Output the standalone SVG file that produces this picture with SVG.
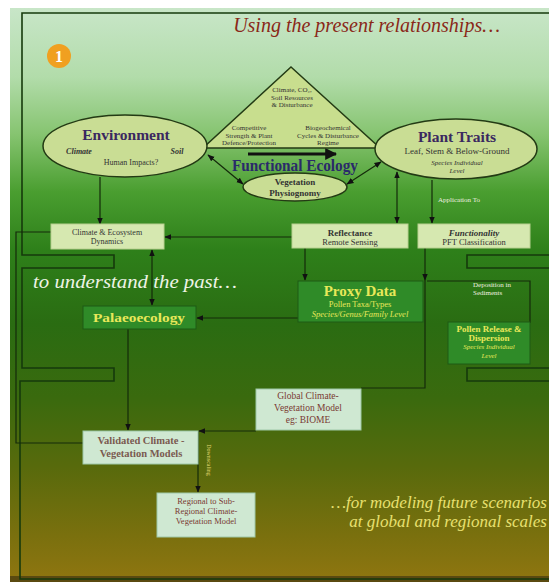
<svg xmlns="http://www.w3.org/2000/svg" width="549" height="582" viewBox="0 0 549 582">
<defs>
<linearGradient id="bg" x1="0" y1="0" x2="0" y2="1">
<stop offset="0" stop-color="#c8e6c8"/>
<stop offset="0.12" stop-color="#b2dcaa"/>
<stop offset="0.22" stop-color="#86c470"/>
<stop offset="0.32" stop-color="#4a9e30"/>
<stop offset="0.42" stop-color="#2e801a"/>
<stop offset="0.55" stop-color="#2a6c12"/>
<stop offset="0.68" stop-color="#3a6a0e"/>
<stop offset="0.8" stop-color="#586a0c"/>
<stop offset="0.92" stop-color="#7a700e"/>
<stop offset="1" stop-color="#907610"/>
</linearGradient>
<marker id="ah" viewBox="0 0 10 10" refX="9" refY="5" markerWidth="6" markerHeight="6" orient="auto-start-reverse">
<path d="M0,1 L10,5 L0,9 z" fill="#111"/>
</marker>
<marker id="big" viewBox="0 0 10 10" refX="9" refY="5" markerWidth="4" markerHeight="4" orient="auto">
<path d="M0,0 L10,5 L0,10 z" fill="#111"/>
</marker>
</defs>
<style>
.frame{fill:none;stroke:#163a0c;stroke-width:1.6}
.conn{fill:none;stroke:#142a0a;stroke-width:1.2}
.ell{fill:#c9dd94;stroke:#233a14;stroke-width:1.5}
.lbox{fill:#d6e8b0;stroke:#b8d090;stroke-width:1}
.gbox{fill:#2f8b28;stroke:#1e5a14;stroke-width:1}
.mbox{fill:#cfe8d2;stroke:#9ec8a8;stroke-width:1}
.s{font-family:"Liberation Serif","Times New Roman",serif}
.dk{fill:#333}
.tt{fill:#3a2860;font-weight:bold}
.yl{fill:#e8e85a}
.rb{fill:#7a3a32}
.it{font-style:italic}
.b{font-weight:bold}
</style>
<rect x="10" y="8" width="539" height="574" fill="url(#bg)"/>
<rect x="10" y="576" width="539" height="6" fill="#5a4a10"/>

<g id="frames">
<path class="frame" d="M549,13 H22 V255 H114 V268 H22 V368 H114 V381 H20 V579 H549"/>
<path class="frame" d="M549,255 H467 V268 H549"/>
<path class="frame" d="M549,368 H467 V381 H549"/>
</g>

<g id="captions" class="s it">
<text x="500" y="32" font-size="20" text-anchor="end" fill="#8a2818">Using the present relationships…</text>
<text x="33" y="288" font-size="19" fill="#eef4e6" textLength="204" lengthAdjust="spacingAndGlyphs">to understand the past…</text>
<text x="547" y="508" font-size="17" text-anchor="end" fill="#e8e070">…for modeling future scenarios</text>
<text x="547" y="527" font-size="17" text-anchor="end" fill="#e8e070">at global and regional scales</text>
</g>

<g id="badge">
<circle cx="59" cy="56" r="12" fill="#f0a020"/>
<text x="59" y="62" font-size="16" text-anchor="middle" fill="#fff" class="s b">1</text>
</g>

<g id="connectors">
<line class="conn" x1="208" y1="155" x2="243" y2="184" marker-start="url(#ah)" marker-end="url(#ah)"/>
<line class="conn" x1="347" y1="184" x2="381" y2="162" marker-start="url(#ah)" marker-end="url(#ah)"/>
<line x1="248" y1="154" x2="336" y2="154" stroke="#111" stroke-width="3" marker-end="url(#big)"/>
<line class="conn" x1="100" y1="177" x2="100" y2="224" marker-end="url(#ah)"/>
<line class="conn" x1="292" y1="237" x2="165" y2="237" marker-end="url(#ah)"/>
<line class="conn" x1="152" y1="250" x2="152" y2="305" marker-start="url(#ah)" marker-end="url(#ah)"/>
<line class="conn" x1="397" y1="172" x2="397" y2="223" marker-start="url(#ah)" marker-end="url(#ah)"/>
<line class="conn" x1="432" y1="180" x2="432" y2="223" marker-end="url(#ah)"/>
<line class="conn" x1="305" y1="248" x2="305" y2="280" marker-end="url(#ah)"/>
<line class="conn" x1="425" y1="248" x2="425" y2="280" marker-end="url(#ah)"/>
<path class="conn" d="M425,280 V388 H361"/>
<line class="conn" x1="298" y1="318" x2="197" y2="318" marker-end="url(#ah)"/>
<line class="conn" x1="128" y1="329" x2="128" y2="430" marker-end="url(#ah)"/>
<line class="conn" x1="256" y1="431" x2="199" y2="431" marker-end="url(#ah)"/>
<line class="conn" x1="198" y1="431" x2="198" y2="492" marker-end="url(#ah)"/>
<path class="conn" d="M51,232 H16 V443 H83"/>
<path class="conn" d="M427,281 H530 V323"/>
<text x="207" y="460" font-size="6" class="s" fill="#e0d870" text-anchor="middle" transform="rotate(90 207 460)">Downscaling</text>
<text x="459" y="202" font-size="7" class="s" fill="#f0f0e0" text-anchor="middle">Application To</text>
<text x="473" y="287" font-size="7" class="s" fill="#f0f0e0">Deposition in</text>
<text x="473" y="295" font-size="7" class="s" fill="#f0f0e0">Sediments</text>
</g>

<g id="triangle">
<path d="M291,67 L380,148 L203,148 Z" fill="#c8de8e" stroke="#233a14" stroke-width="1.5"/>
<g class="s dk" font-size="7" text-anchor="middle">
<text x="292" y="92">Climate, CO₂,</text>
<text x="292" y="99.5">Soil Resources</text>
<text x="292" y="107">&amp; Disturbance</text>
<text x="249" y="130">Competitive</text>
<text x="249" y="137.5">Strength &amp; Plant</text>
<text x="249" y="145">Defence/Protection</text>
<text x="328" y="130">Biogeochemical</text>
<text x="328" y="137.5">Cycles &amp; Disturbance</text>
<text x="328" y="145">Regime</text>
</g>
</g>

<g id="functional-ecology">
<text x="295" y="171" font-size="16" text-anchor="middle" class="s b" fill="#2a2a6a" textLength="126" lengthAdjust="spacingAndGlyphs">Functional Ecology</text>
</g>

<g id="environment">
<ellipse class="ell" cx="125" cy="146" rx="82" ry="31"/>
<text x="126" y="140" font-size="15.5" text-anchor="middle" class="s tt">Environment</text>
<text x="79" y="154" font-size="8" text-anchor="middle" class="s it b dk">Climate</text>
<text x="177" y="154" font-size="8" text-anchor="middle" class="s it b dk">Soil</text>
<text x="131" y="165" font-size="8" text-anchor="middle" class="s dk">Human Impacts?</text>
</g>

<g id="plant-traits">
<ellipse class="ell" cx="456" cy="149" rx="81" ry="30"/>
<text x="457" y="142" font-size="15.5" text-anchor="middle" class="s tt">Plant Traits</text>
<text x="457" y="154" font-size="9" text-anchor="middle" class="s dk">Leaf, Stem &amp; Below-Ground</text>
<text x="457" y="165" font-size="7" text-anchor="middle" class="s it dk">Species Individual</text>
<text x="457" y="173" font-size="7" text-anchor="middle" class="s it dk">Level</text>
</g>

<g id="vegetation">
<ellipse class="ell" cx="295" cy="187" rx="52" ry="14"/>
<text x="295" y="185" font-size="9" text-anchor="middle" class="s b dk">Vegetation</text>
<text x="295" y="196" font-size="9" text-anchor="middle" class="s b dk">Physiognomy</text>
</g>

<g id="climate-ecosystem">
<rect class="lbox" x="51" y="224" width="113" height="25"/>
<text x="107" y="235" font-size="8" text-anchor="middle" class="s dk">Climate &amp; Ecosystem</text>
<text x="107" y="244" font-size="8" text-anchor="middle" class="s dk">Dynamics</text>
</g>

<g id="reflectance">
<rect class="lbox" x="292" y="224" width="116" height="24"/>
<text x="350" y="236" font-size="9" text-anchor="middle" class="s b dk">Reflectance</text>
<text x="350" y="245" font-size="8.5" text-anchor="middle" class="s dk">Remote Sensing</text>
</g>

<g id="functionality">
<rect class="lbox" x="418" y="224" width="112" height="24"/>
<text x="474" y="236" font-size="9" text-anchor="middle" class="s b it dk">Functionality</text>
<text x="474" y="245" font-size="8.5" text-anchor="middle" class="s dk">PFT Classification</text>
</g>

<g id="palaeoecology">
<rect class="gbox" x="83" y="306" width="113" height="23"/>
<text x="139" y="322" font-size="13" text-anchor="middle" class="s b yl" textLength="92" lengthAdjust="spacingAndGlyphs">Palaeoecology</text>
</g>

<g id="proxy-data">
<rect class="gbox" x="298" y="281" width="125" height="41"/>
<text x="360" y="296" font-size="15" text-anchor="middle" class="s b yl">Proxy Data</text>
<text x="360" y="307" font-size="8.5" text-anchor="middle" class="s yl">Pollen Taxa/Types</text>
<text x="360" y="317" font-size="8.5" text-anchor="middle" class="s it yl">Species/Genus/Family Level</text>
</g>

<g id="pollen-release">
<rect class="gbox" x="448" y="322" width="82" height="42"/>
<text x="489" y="332" font-size="9" text-anchor="middle" class="s b yl">Pollen Release &amp;</text>
<text x="489" y="341" font-size="9" text-anchor="middle" class="s b yl">Dispersion</text>
<text x="489" y="349" font-size="7" text-anchor="middle" class="s it yl">Species Individual</text>
<text x="489" y="358" font-size="7" text-anchor="middle" class="s it yl">Level</text>
</g>

<g id="global-model">
<rect class="mbox" x="256" y="389" width="105" height="41"/>
<text x="308" y="399" font-size="9.5" text-anchor="middle" class="s rb">Global Climate-</text>
<text x="308" y="411" font-size="9.5" text-anchor="middle" class="s rb">Vegetation Model</text>
<text x="308" y="423" font-size="9.5" text-anchor="middle" class="s rb">eg: BIOME</text>
</g>

<g id="validated">
<rect class="mbox" x="83" y="431" width="115" height="33"/>
<text x="141" y="444" font-size="10.5" text-anchor="middle" class="s b" fill="#7a5a50">Validated Climate -</text>
<text x="141" y="457" font-size="10.5" text-anchor="middle" class="s b" fill="#7a5a50">Vegetation Models</text>
</g>

<g id="regional">
<rect class="mbox" x="157" y="493" width="98" height="44"/>
<text x="206" y="504" font-size="8.5" text-anchor="middle" class="s rb">Regional to Sub-</text>
<text x="206" y="514" font-size="8.5" text-anchor="middle" class="s rb">Regional Climate-</text>
<text x="206" y="524" font-size="8.5" text-anchor="middle" class="s rb">Vegetation Model</text>
</g>
</svg>
